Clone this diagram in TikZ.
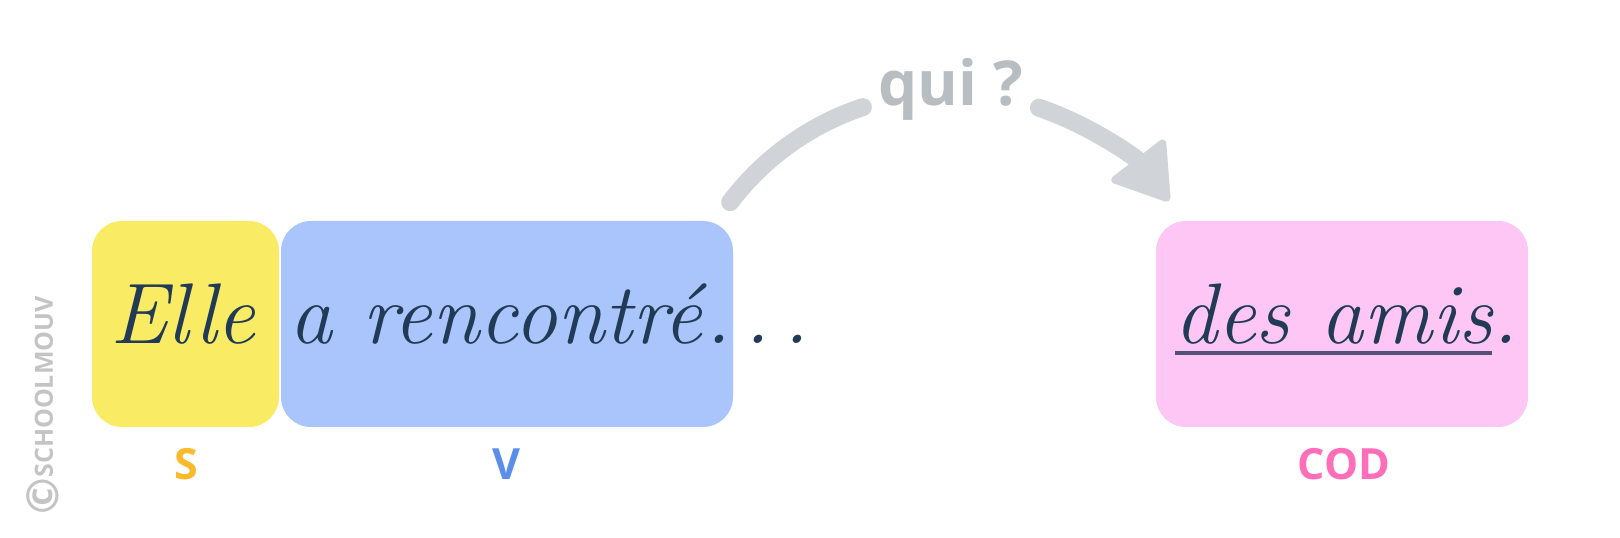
\documentclass[tikz,border=0pt]{standalone}
\usepackage{fontspec}
\newfontfamily\labfont{Open Sans}
\usetikzlibrary{arrows.meta,calc}
\definecolor{ylw}{HTML}{FAEB64}
\definecolor{blu}{HTML}{AAC4FC}
\definecolor{pnk}{HTML}{FEC6F4}
\definecolor{navy}{HTML}{213A55}
\definecolor{arrgray}{HTML}{D0D3D7}
\definecolor{qgray}{HTML}{B8BDC2}
\definecolor{sclr}{HTML}{FBBA2C}
\definecolor{vclr}{HTML}{5A8EEA}
\definecolor{codclr}{HTML}{FF6EB8}
\definecolor{ulc}{HTML}{545078}
\definecolor{wmc}{HTML}{C4C4C4}
\begin{document}
\begin{tikzpicture}[x=1pt,y=1pt,
  box/.style={rounded corners=30pt, minimum height=206pt, inner sep=0pt, draw=none},
  cur/.style={anchor=base west, inner sep=0pt, text=navy, font=\itshape\fontsize{86}{86}\selectfont},
  lab/.style={font=\labfont\bfseries\fontsize{43}{43}\selectfont, inner sep=0pt, anchor=base},
  qarc/.style={draw=arrgray, line width=18pt, line cap=round},
]
\useasboundingbox (0,0) rectangle (1620,538);
% boxes
\node[box, fill=ylw, minimum width=187pt] (bS) at (185.5,214) {};
\node[box, fill=blu, minimum width=452pt] (bV) at (507,214) {};
\node[box, fill=pnk, minimum width=372pt] (bC) at (1342,214) {};
% cursive text
\node[cur] (elle) at (110,194) {Elle};
\node[cur] (verb) at (289,194) {a rencontré\kern3pt.\kern14pt.\kern13pt.};
\node[cur] (cod) at (1174,194) {des amis.};
\draw[line width=4pt, ulc] ([shift={(1pt,-9pt)}]cod.base west) coordinate (u1) -- ++(317,0) coordinate (u2);
% labels
\node[lab, text=sclr] (sl) at (186,58) {S};
\node[lab, text=vclr] (vl) at (506,58) {V};
\node[lab, text=codclr] (cl) at (1344,58) {COD};
\node[font=\labfont\bfseries\fontsize{62}{62}\selectfont, text=qgray, inner sep=0pt, anchor=base] (qui) at (951,432) {qui ?};
% arc arrow
\coordinate (cc) at (950,169);
\coordinate (a1) at ($(cc)+(142.8:276)$);
\coordinate (a2) at ($(cc)+(71.2:276)$);
\draw[qarc] (a1) arc[start angle=142.8, end angle=108.4, radius=276];
\draw[qarc, -{Triangle[length=57pt,width=72pt,line width=8pt,round]}] (a2) arc[start angle=71.2, end angle=37.5, radius=276];
% watermark
\node[rotate=90, font=\labfont\bfseries\fontsize{25}{25}\selectfont, text=wmc, inner sep=0pt] (wm) at (44,151) {SCHOOLMOUV};
\node[rotate=90, font=\labfont\bfseries\fontsize{44}{44}\selectfont, text=wmc, inner sep=0pt] (cp) at (43,42) {©};
\end{tikzpicture}
\end{document}
